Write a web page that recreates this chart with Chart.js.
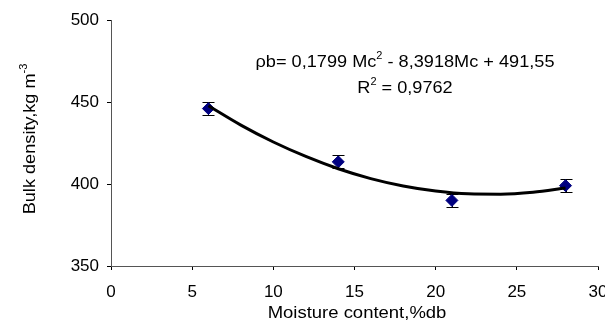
<!DOCTYPE html>
<html>
<head>
<meta charset="utf-8">
<script src="https://cdn.jsdelivr.net/npm/chart.js@4/dist/chart.umd.min.js"></script>
<style>
  html, body { margin: 0; padding: 0; background: #fff; }
  #wrap { width: 605px; height: 325px; }
</style>
</head>
<body>
<div id="wrap"><canvas id="densityChart" width="605" height="325"></canvas></div>
<script>
// Measured points (moisture content, %db vs bulk density)
const moisture = [6, 14, 21, 28];
const density = [446, 413.5, 390, 399];
const densityErr = [4, 4, 4, 4];

// Trend curve
const trendX = [6, 8, 10, 12, 14, 16, 18, 20, 22, 24, 26, 28];
const trendY = [447.7, 435.9, 425.6, 416.8, 409.3, 403.3, 398.8, 395.7, 394.0, 393.8, 395.0, 397.6];

const equationLines = ["\u03c1b= 0,1799 Mc", "2", " - 8,3918Mc + 491,55"];
const r2Text = ["R", "2", " = 0,9762"];

const FONT = "'Liberation Sans', Arial, sans-serif";

// Draws a run of text pieces, odd pieces as superscript, centred at cx
// the picture's text is a bit wider than plain Arial, so stretch it
const drawPieces = (ctx, pieces, cx, cy, size, stretch = 1.1) => {
  const big = size + "px " + FONT;
  const small = Math.round(size * 0.62) + "px " + FONT;
  let total = 0;
  pieces.forEach((p, i) => {
    ctx.font = i % 2 ? small : big;
    total += ctx.measureText(p).width;
  });
  ctx.save();
  ctx.translate(cx, cy);
  ctx.scale(stretch, 1);
  let x = -total / 2;
  pieces.forEach((p, i) => {
    ctx.font = i % 2 ? small : big;
    ctx.fillText(p, x, i % 2 ? -size * 0.33 : 0);
    x += ctx.measureText(p).width;
  });
  ctx.restore();
};

const errorBars = {
  id: "errorBars",
  beforeDatasetsDraw(chart) {
    const ctx = chart.ctx;
    const xs = chart.scales.x;
    const ys = chart.scales.y;
    ctx.save();
    ctx.strokeStyle = "#000";
    ctx.lineWidth = 1;
    moisture.forEach((m, i) => {
      const px = Math.round(xs.getPixelForValue(m)) + 0.5;
      const top = Math.round(ys.getPixelForValue(density[i] + densityErr[i])) + 0.5;
      const bot = Math.round(ys.getPixelForValue(density[i] - densityErr[i])) + 0.5;
      ctx.beginPath();
      ctx.moveTo(px, top); ctx.lineTo(px, bot);
      ctx.moveTo(px - 6, top); ctx.lineTo(px + 6, top);
      ctx.moveTo(px - 6, bot); ctx.lineTo(px + 6, bot);
      ctx.stroke();
    });
    ctx.restore();
  }
};

const textLabels = {
  id: "textLabels",
  afterDraw(chart) {
    const ctx = chart.ctx;
    ctx.save();
    ctx.fillStyle = "#000";
    ctx.textBaseline = "middle";
    ctx.textAlign = "left";
    // equation and R squared
    drawPieces(ctx, equationLines, 405, 62, 16.5);
    drawPieces(ctx, r2Text, 405, 88, 16.5);
    // x axis title
    drawPieces(ctx, ["Moisture content,%db"], 357, 313, 16.5, 1.12);
    // y axis title, rotated
    ctx.translate(30, 139);
    ctx.rotate(-Math.PI / 2);
    drawPieces(ctx, ["Bulk density,kg m", "-3"], 0, 0, 16.5, 1.1);
    ctx.restore();
  }
};

new Chart(document.getElementById("densityChart"), {
  type: "scatter",
  data: {
    datasets: [
      {
        label: "trend",
        data: trendX.map((x, i) => ({ x: x, y: trendY[i] })),
        showLine: true,
        borderColor: "#000",
        borderWidth: 3,
        pointRadius: 0,
        tension: 0.4,
        cubicInterpolationMode: "monotone"
      },
      {
        label: "bulk density",
        data: moisture.map((x, i) => ({ x: x, y: density[i] })),
        pointStyle: "rectRot",
        pointRadius: 6,
        backgroundColor: "#000080",
        borderColor: "#000080",
        borderWidth: 1
      }
    ]
  },
  options: {
    responsive: false,
    animation: false,
    layout: { padding: { top: 20, right: 4, left: 0, bottom: 0 } },
    plugins: { legend: { display: false }, tooltip: { enabled: false } },
    scales: {
      x: {
        type: "linear",
        min: 0,
        max: 30,
        ticks: { stepSize: 5, color: "#000", font: { family: FONT, size: 17 }, padding: 12, maxRotation: 0 },
        grid: { drawOnChartArea: false, tickLength: 4, color: "#000" },
        border: { color: "#555", width: 1 },
        afterFit: (scale) => {
          scale.height = 59;
          scale.paddingLeft = 0;
          scale.paddingRight = 0;
        }
      },
      y: {
        min: 350,
        max: 500,
        ticks: { stepSize: 50, color: "#000", font: { family: FONT, size: 17 }, padding: 8 },
        grid: { drawOnChartArea: false, tickLength: 4, color: "#000" },
        border: { color: "#555", width: 1 },
        afterFit: (scale) => {
          scale.width = 111;
          scale.paddingTop = 0;
          scale.paddingBottom = 0;
        }
      }
    }
  },
  plugins: [errorBars, textLabels]
});
</script>
</body>
</html>
